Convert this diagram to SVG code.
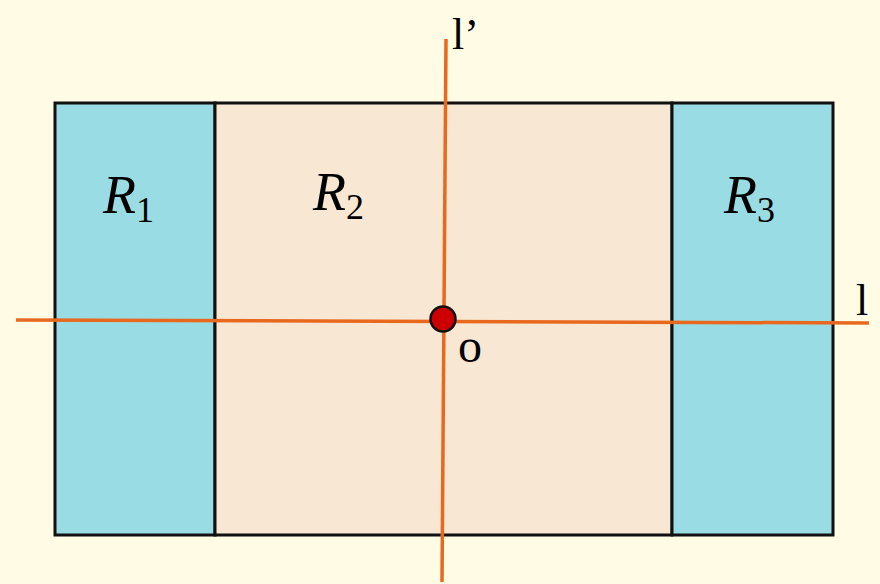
<svg xmlns="http://www.w3.org/2000/svg" width="880" height="584" viewBox="0 0 880 584">
<style>
.lbl{font-family:"Liberation Serif",serif;fill:#000}
.it{font-style:italic}
.ax{stroke:#E8691E;stroke-width:3.5;fill:none}
.box{stroke:#111;stroke-width:3}
</style>
<rect width="880" height="584" fill="#FFFBE4"/>
<g id="R1"><rect class="box" x="55" y="103" width="160" height="432" fill="#99DCE3"/>
<text class="lbl it" x="103" y="213" font-size="54">R<tspan font-style="normal" font-size="36" dy="9">1</tspan></text></g>
<g id="R2"><rect class="box" x="215" y="103" width="457" height="432" fill="#F7E7D3"/>
<text class="lbl it" x="313" y="210" font-size="54">R<tspan font-style="normal" font-size="36" dy="9">2</tspan></text></g>
<g id="R3"><rect class="box" x="672" y="103" width="161" height="432" fill="#99DCE3"/>
<text class="lbl it" x="724" y="213" font-size="54">R<tspan font-style="normal" font-size="36" dy="9">3</tspan></text></g>
<g id="connectors">
<line class="ax" x1="446" y1="39" x2="442" y2="582"/>
<line class="ax" x1="16" y1="320" x2="869" y2="323"/>
</g>
<g id="o"><circle cx="443" cy="319" r="12.5" fill="#CC0000" stroke="#111" stroke-width="2.5"/>
<text class="lbl" x="458" y="362" font-size="48">o</text></g>
<g id="lprime"><text class="lbl" x="452" y="49" font-size="44">l’</text></g>
<g id="l"><text class="lbl" x="856" y="315" font-size="44">l</text></g>
</svg>
